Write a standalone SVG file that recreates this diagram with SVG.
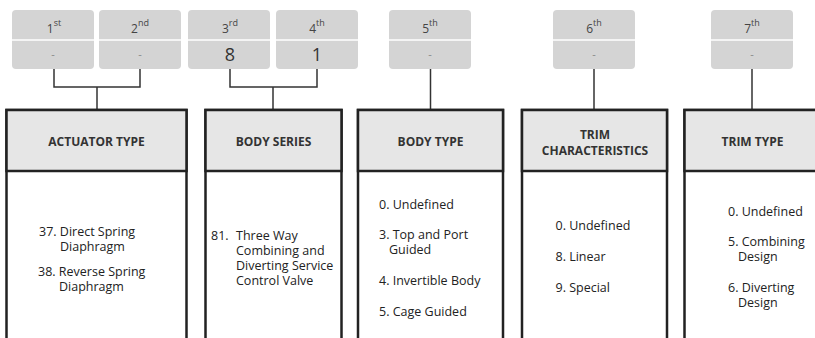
<svg xmlns="http://www.w3.org/2000/svg" width="815" height="338" viewBox="0 0 815 338">
<style>
.pos{fill:#d4d4d4}
.div{stroke:#ffffff;stroke-width:1.5}
.ord{font-family:"Open Sans","Liberation Sans",sans-serif;font-size:12px;fill:#444;text-anchor:middle}
.sup{font-size:9px}
.dash{font-family:"Open Sans","Liberation Sans",sans-serif;font-size:11px;fill:#888;text-anchor:middle}
.val{font-family:"Open Sans","Liberation Sans",sans-serif;font-size:18px;fill:#333;text-anchor:middle}
.box{fill:#ffffff;stroke:#222;stroke-width:2.5}
.hdr{fill:#e6e6e6;stroke:#222;stroke-width:2.5}
.ht{font-family:"Open Sans","Liberation Sans",sans-serif;font-size:12px;font-weight:bold;fill:#333;text-anchor:middle}
.bt{font-family:"Open Sans","Liberation Sans",sans-serif;font-size:12.5px;fill:#222}
.conn{fill:none;stroke:#333;stroke-width:1.5}
</style>
<rect width="815" height="338" fill="#ffffff"/>
<g id="connectors">
<path class="conn" d="M54 69 V87 H140 V69 M97 87 V110"/>
<path class="conn" d="M230 69 V87 H317 V69 M273 87 V110"/>
<path class="conn" d="M430.5 69 V110"/>
<path class="conn" d="M594 69 V110"/>
<path class="conn" d="M752 69 V110"/>
</g>
<g id="pos1">
<rect class="pos" x="12" y="10" width="82" height="59" rx="4"/>
<line class="div" x1="12" y1="40" x2="94" y2="40"/>
<text class="ord" x="54" y="33">1<tspan class="sup" dy="-7">st</tspan></text>
<text class="dash" x="53" y="58">-</text>
</g>
<g id="pos2">
<rect class="pos" x="99" y="10" width="82" height="59" rx="4"/>
<line class="div" x1="99" y1="40" x2="181" y2="40"/>
<text class="ord" x="140" y="33">2<tspan class="sup" dy="-7">nd</tspan></text>
<text class="dash" x="140" y="58">-</text>
</g>
<g id="pos3">
<rect class="pos" x="188" y="10" width="82" height="59" rx="4"/>
<line class="div" x1="188" y1="40" x2="270" y2="40"/>
<text class="ord" x="230" y="33">3<tspan class="sup" dy="-7">rd</tspan></text>
<text class="val" x="230" y="61">8</text>
</g>
<g id="pos4">
<rect class="pos" x="276" y="10" width="82" height="59" rx="4"/>
<line class="div" x1="276" y1="40" x2="358" y2="40"/>
<text class="ord" x="317" y="33">4<tspan class="sup" dy="-7">th</tspan></text>
<text class="val" x="317" y="61">1</text>
</g>
<g id="pos5">
<rect class="pos" x="389" y="10" width="82" height="59" rx="4"/>
<line class="div" x1="389" y1="40" x2="471" y2="40"/>
<text class="ord" x="430" y="33">5<tspan class="sup" dy="-7">th</tspan></text>
<text class="dash" x="430" y="58">-</text>
</g>
<g id="pos6">
<rect class="pos" x="553" y="10" width="82" height="59" rx="4"/>
<line class="div" x1="553" y1="40" x2="635" y2="40"/>
<text class="ord" x="594" y="33">6<tspan class="sup" dy="-7">th</tspan></text>
<text class="dash" x="594" y="58">-</text>
</g>
<g id="pos7">
<rect class="pos" x="711" y="10" width="82" height="59" rx="4"/>
<line class="div" x1="711" y1="40" x2="793" y2="40"/>
<text class="ord" x="752" y="33">7<tspan class="sup" dy="-7">th</tspan></text>
<text class="dash" x="752" y="58">-</text>
</g>
<g id="actuator-type">
<rect class="box" x="6.5" y="110" width="180" height="250"/>
<rect class="hdr" x="6.5" y="110" width="180" height="61"/>
<text class="ht" x="96.5" y="146">ACTUATOR TYPE</text>
<text class="bt" x="39" y="236">37. Direct Spring</text>
<text class="bt" x="60" y="251">Diaphragm</text>
<text class="bt" x="38" y="276">38. Reverse Spring</text>
<text class="bt" x="59" y="291">Diaphragm</text>
</g>
<g id="body-series">
<rect class="box" x="205.5" y="110" width="136" height="250"/>
<rect class="hdr" x="205.5" y="110" width="136" height="61"/>
<text class="ht" x="273.5" y="146">BODY SERIES</text>
<text class="bt" x="211" y="240">81.</text>
<text class="bt" x="236" y="240">Three Way</text>
<text class="bt" x="236" y="255">Combining and</text>
<text class="bt" x="236" y="270">Diverting Service</text>
<text class="bt" x="236" y="285">Control Valve</text>
</g>
<g id="body-type">
<rect class="box" x="358" y="110" width="145" height="250"/>
<rect class="hdr" x="358" y="110" width="145" height="61"/>
<text class="ht" x="430.5" y="146">BODY TYPE</text>
<text class="bt" x="379" y="209">0. Undefined</text>
<text class="bt" x="379" y="239">3. Top and Port</text>
<text class="bt" x="389" y="254">Guided</text>
<text class="bt" x="379" y="285">4. Invertible Body</text>
<text class="bt" x="379" y="316">5. Cage Guided</text>
</g>
<g id="trim-characteristics">
<rect class="box" x="522" y="110" width="145" height="250"/>
<rect class="hdr" x="522" y="110" width="145" height="61"/>
<text class="ht" x="595" y="138.5">TRIM</text>
<text class="ht" x="595" y="154.5">CHARACTERISTICS</text>
<text class="bt" x="555.5" y="230">0. Undefined</text>
<text class="bt" x="555.5" y="261">8. Linear</text>
<text class="bt" x="555.5" y="292">9. Special</text>
</g>
<g id="trim-type">
<rect class="box" x="684.5" y="110" width="140" height="250"/>
<rect class="hdr" x="684.5" y="110" width="140" height="61"/>
<text class="ht" x="752.5" y="146">TRIM TYPE</text>
<text class="bt" x="728" y="216">0. Undefined</text>
<text class="bt" x="728" y="246">5. Combining</text>
<text class="bt" x="738" y="261">Design</text>
<text class="bt" x="728" y="292">6. Diverting</text>
<text class="bt" x="738" y="307">Design</text>
</g>
</svg>
